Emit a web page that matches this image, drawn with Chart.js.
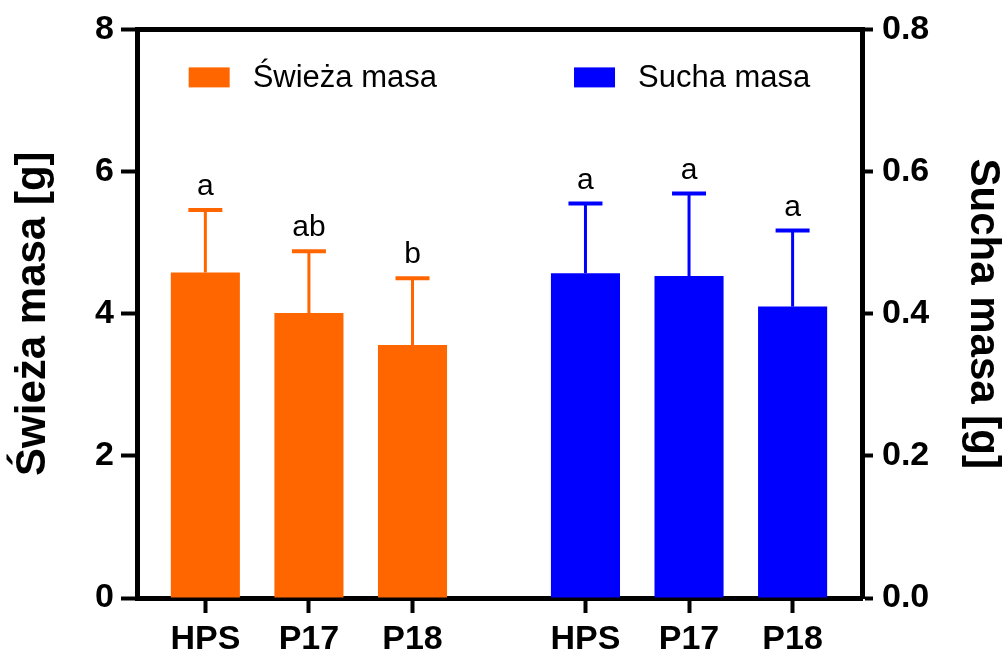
<!DOCTYPE html>
<html>
<head>
<meta charset="utf-8">
<script src="https://cdn.jsdelivr.net/npm/chart.js@4.4.0/dist/chart.umd.min.js"></script>
<style>
  html, body { margin: 0; padding: 0; background: #fff; }
  #wrap { width: 1008px; height: 656px; }
</style>
</head>
<body>
<div id="wrap"><canvas id="massChart" width="1008" height="656"></canvas></div>
<script>
// groups on the x axis; the dry-mass group sits after a gap
const groups = ['HPS', 'P17', 'P18'];
const freshX = [1, 2, 3];
const dryX = [4.67, 5.67, 6.67];

// fresh mass [g], left axis
const freshMean = [4.58, 4.01, 3.56];
const freshSD = [0.88, 0.87, 0.94];
const freshLetters = ['a', 'ab', 'b'];

// dry mass [g], right axis
const dryMean = [0.457, 0.453, 0.410];
const drySD = [0.098, 0.116, 0.107];
const dryLetters = ['a', 'a', 'a'];

const FONT = "'Liberation Sans', Arial, Helvetica, sans-serif";
const ORANGE = '#ff6600';
const BLUE = '#0000ff';

// error bars (upper only) + significance letters
const errorBars = {
    id: 'errorBars',
    afterDatasetsDraw(chart) {
        const ctx = chart.ctx;
        chart.data.datasets.forEach((ds, i) => {
            const meta = chart.getDatasetMeta(i);
            const scale = chart.scales[ds.yAxisID];
            meta.data.forEach((bar, j) => {
                const v = ds.data[j].y;
                const top = scale.getPixelForValue(v + ds.sd[j]);
                ctx.save();
                ctx.strokeStyle = ds.backgroundColor;
                ctx.lineWidth = 3;
                ctx.beginPath();
                ctx.moveTo(bar.x, bar.y);
                ctx.lineTo(bar.x, top);
                ctx.stroke();
                ctx.lineWidth = 4;
                ctx.beginPath();
                ctx.moveTo(bar.x - 17, top);
                ctx.lineTo(bar.x + 17, top);
                ctx.stroke();
                ctx.fillStyle = '#000';
                ctx.font = '30px ' + FONT;
                ctx.textAlign = 'center';
                ctx.textBaseline = 'bottom';
                ctx.fillText(ds.letters[j], bar.x, top - 8);
                ctx.restore();
            });
        });
    }
};

// top frame line
const topFrame = {
    id: 'topFrame',
    afterDraw(chart) {
        const {ctx, chartArea} = chart;
        ctx.save();
        ctx.strokeStyle = '#000';
        ctx.lineWidth = 5;
        ctx.beginPath();
        ctx.moveTo(chartArea.left, chartArea.top);
        ctx.lineTo(chartArea.right, chartArea.top);
        ctx.stroke();
        ctx.restore();
    }
};

// legend drawn inside the plot area
const innerLegend = {
    id: 'innerLegend',
    afterDraw(chart) {
        const {ctx, chartArea} = chart;
        const boxW = 41, boxH = 20, textGap = 23, itemGap = 137;
        ctx.save();
        ctx.font = '31px ' + FONT;
        const items = chart.data.datasets.map(ds => ({
            label: ds.label,
            color: ds.backgroundColor,
            w: boxW + textGap + ctx.measureText(ds.label).width
        }));
        const total = items.reduce((s, it) => s + it.w, 0) + itemGap * (items.length - 1);
        let x = (chartArea.left + chartArea.right) / 2 - total / 2;
        const cy = chartArea.top + 48;
        items.forEach(it => {
            ctx.fillStyle = it.color;
            ctx.fillRect(x, cy - boxH / 2, boxW, boxH);
            ctx.fillStyle = '#000';
            ctx.textAlign = 'left';
            ctx.textBaseline = 'middle';
            ctx.fillText(it.label, x + boxW + textGap, cy + 1);
            x += it.w + itemGap;
        });
        ctx.restore();
    }
};

const allX = [...freshX, ...dryX];

new Chart(document.getElementById('massChart'), {
    type: 'bar',
    data: {
        datasets: [{
            label: 'Świeża masa',
            data: freshX.map((x, i) => ({ x: x, y: freshMean[i] })),
            sd: freshSD,
            letters: freshLetters,
            yAxisID: 'y',
            backgroundColor: ORANGE
        }, {
            label: 'Sucha masa',
            data: dryX.map((x, i) => ({ x: x, y: dryMean[i] })),
            sd: drySD,
            letters: dryLetters,
            yAxisID: 'y1',
            backgroundColor: BLUE
        }]
    },
    options: {
        responsive: false,
        animation: false,
        devicePixelRatio: 1,
        grouped: false,
        categoryPercentage: 0.667,
        barPercentage: 1,
        layout: { padding: { top: 28, left: 0, right: 0, bottom: 0 } },
        plugins: {
            legend: { display: false },
            tooltip: { enabled: false }
        },
        scales: {
            x: {
                type: 'linear',
                offset: false,
                min: 0.34,
                max: 7.34,
                afterBuildTicks: scale => { scale.ticks = allX.map(v => ({ value: v })); },
                afterFit: scale => { scale.height = 58; },
                ticks: {
                    autoSkip: false,
                    maxRotation: 0,
                    padding: 6,
                    color: '#000',
                    font: { family: FONT, size: 34, weight: 'bold' },
                    callback: (value, index) => groups[index % groups.length]
                },
                grid: { offset: false, drawOnChartArea: false, tickLength: 15, tickWidth: 4, tickColor: '#000' },
                border: { width: 5, color: '#000' }
            },
            y: {
                position: 'left',
                min: 0,
                max: 8,
                afterFit: scale => { scale.width = 137; },
                ticks: {
                    stepSize: 2,
                    padding: 7,
                    color: '#000',
                    font: { family: FONT, size: 34, weight: 'bold' }
                },
                grid: { drawOnChartArea: false, tickLength: 16, tickWidth: 4, tickColor: '#000' },
                border: { width: 5, color: '#000' },
                title: {
                    display: true,
                    text: 'Świeża masa [g]',
                    color: '#000',
                    padding: { top: 8, bottom: 0 },
                    font: { family: FONT, size: 42, weight: 'bold' }
                }
            },
            y1: {
                position: 'right',
                min: 0,
                max: 0.8,
                afterFit: scale => { scale.width = 146; },
                ticks: {
                    stepSize: 0.2,
                    padding: 9,
                    color: '#000',
                    font: { family: FONT, size: 34, weight: 'bold' },
                    callback: v => Number(v).toFixed(1)
                },
                grid: { drawOnChartArea: false, tickLength: 11, tickWidth: 4, tickColor: '#000' },
                border: { width: 5, color: '#000' },
                title: {
                    display: true,
                    text: 'Sucha masa [g]',
                    color: '#000',
                    padding: { top: 0, bottom: 0 },
                    font: { family: FONT, size: 42, weight: 'bold' }
                }
            }
        }
    },
    plugins: [errorBars, topFrame, innerLegend]
});
</script>
</body>
</html>
